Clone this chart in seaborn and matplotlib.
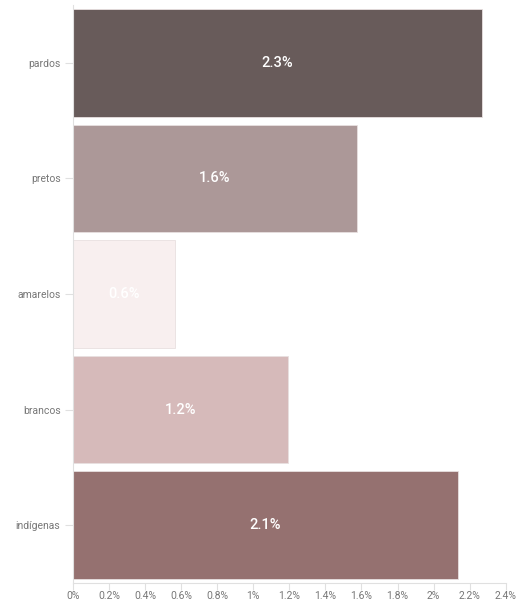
import matplotlib
matplotlib.use("Agg")
import matplotlib.pyplot as plt
import seaborn as sns
import pandas as pd
from matplotlib import font_manager

categories = ["pardos", "pretos", "amarelos", "brancos", "indígenas"]
values = [2.27, 1.575, 0.565, 1.19, 2.135]
labels = ["2.3%", "1.6%", "0.6%", "1.2%", "2.1%"]
colors = ["#6b5957", "#b09495", "#f9eeee", "#dbb5b5", "#9b6b6a"]
xticks = [0, 0.2, 0.4, 0.6, 0.8, 1, 1.2, 1.4, 1.6, 1.8, 2, 2.2, 2.4]
xticklabels = ["0%", "0.2%", "0.4%", "0.6%", "0.8%", "1%", "1.2%", "1.4%", "1.6%", "1.8%", "2%", "2.2%", "2.4%"]

sns.set_style("white")
avail = {f.name for f in font_manager.fontManager.ttflist}
fam = [f for f in ["Liberation Sans Narrow", "Roboto", "DejaVu Sans"] if f in avail]
plt.rcParams["font.family"] = fam

df = pd.DataFrame({"cat": categories, "val": values})

fig = plt.figure(figsize=(5.19, 6.03), dpi=100)
ax = fig.add_axes([73/519, 1-583/603, (505.7-73)/519, (583-5)/603])
sns.barplot(data=df, x="val", y="cat", hue="cat", palette=colors, order=categories,
            hue_order=categories, orient="h", width=0.93, ax=ax, legend=False,
            edgecolor="#e8e0e0", linewidth=0.6)

for i, (v, lab) in enumerate(zip(values, labels)):
    ax.text(v/2, i, lab, ha="center", va="center", color="white",
            fontsize=10.5, fontweight="medium")

ax.set_xlim(0, 2.4)
ax.set_ylim(4.5, -0.5)
ax.set_xticks(xticks)
ax.set_xticklabels(xticklabels)
ax.set_xlabel("")
ax.set_ylabel("")
for s in ["top", "right"]:
    ax.spines[s].set_visible(False)
for s in ["left", "bottom"]:
    ax.spines[s].set_color("#e0e0e0")
    ax.spines[s].set_linewidth(0.8)
ax.tick_params(axis="both", which="both", length=6, width=0.8, color="#e0e0e0",
               labelcolor="#777777", labelsize=7.5, bottom=True, left=True)
ax.tick_params(axis="x", length=5, pad=1)
ax.tick_params(axis="y", length=6, pad=3)
ax.grid(False)

fig.savefig("out.png", dpi=100)
